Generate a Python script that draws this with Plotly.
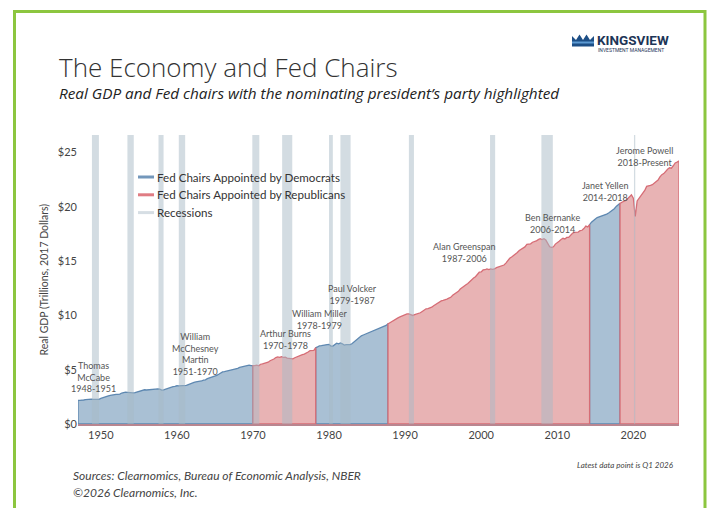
import plotly.graph_objects as go
import pandas as pd

# ---------------- data ----------------
# Real GDP, trillions of 2017 dollars, quarterly from 1947 Q1 to 2026 Q1
gdp_trillions = [
    2.18, 2.18, 2.17, 2.21,   # 1947
    2.24, 2.28, 2.29, 2.29,   # 1948
    2.26, 2.25, 2.28, 2.26,   # 1949
    2.35, 2.42, 2.51, 2.56,   # 1950
    2.59, 2.64, 2.69, 2.70,   # 1951
    2.73, 2.73, 2.75, 2.85,   # 1952
    2.90, 2.93, 2.91, 2.87,   # 1953
    2.86, 2.86, 2.89, 2.95,   # 1954
    3.04, 3.09, 3.13, 3.15,   # 1955
    3.13, 3.15, 3.15, 3.20,   # 1956
    3.22, 3.22, 3.24, 3.20,   # 1957
    3.12, 3.14, 3.21, 3.29,   # 1958
    3.35, 3.44, 3.44, 3.46,   # 1959
    3.52, 3.50, 3.51, 3.47,   # 1960
    3.49, 3.55, 3.62, 3.71,   # 1961
    3.78, 3.83, 3.87, 3.88,   # 1962
    3.92, 3.96, 4.04, 4.07,   # 1963
    4.17, 4.23, 4.29, 4.31,   # 1964
    4.40, 4.48, 4.58, 4.70,   # 1965
    4.80, 4.82, 4.86, 4.90,   # 1966
    4.94, 4.95, 4.98, 5.02,   # 1967
    5.12, 5.21, 5.25, 5.28,   # 1968
    5.35, 5.37, 5.41, 5.38,   # 1969
    5.37, 5.37, 5.42, 5.35,   # 1970
    5.50, 5.54, 5.59, 5.60,   # 1971
    5.69, 5.82, 5.88, 5.98,   # 1972
    6.12, 6.17, 6.14, 6.20,   # 1973
    6.14, 6.15, 6.07, 6.04,   # 1974
    5.96, 5.99, 6.10, 6.18,   # 1975
    6.30, 6.35, 6.39, 6.44,   # 1976
    6.51, 6.63, 6.75, 6.75,   # 1977
    6.77, 7.02, 7.10, 7.20,   # 1978
    7.22, 7.23, 7.29, 7.31,   # 1979
    7.33, 7.17, 7.17, 7.30,   # 1980
    7.44, 7.38, 7.46, 7.38,   # 1981
    7.27, 7.31, 7.29, 7.30,   # 1982
    7.38, 7.54, 7.69, 7.84,   # 1983
    7.99, 8.12, 8.19, 8.26,   # 1984
    8.33, 8.40, 8.53, 8.59,   # 1985
    8.66, 8.69, 8.78, 8.83,   # 1986
    8.89, 8.98, 9.07, 9.22,   # 1987
    9.32, 9.44, 9.50, 9.63,   # 1988
    9.74, 9.83, 9.92, 9.95,   # 1989
    10.09, 10.13, 10.13, 10.04,  # 1990
    9.99, 10.06, 10.11, 10.15,   # 1991
    10.24, 10.36, 10.48, 10.60,  # 1992
    10.62, 10.68, 10.75, 10.89,  # 1993
    11.00, 11.14, 11.20, 11.33,  # 1994
    11.37, 11.41, 11.50, 11.58,  # 1995
    11.66, 11.85, 11.96, 12.12,  # 1996
    12.21, 12.42, 12.58, 12.69,  # 1997
    12.82, 12.93, 13.11, 13.31,  # 1998
    13.44, 13.56, 13.74, 13.97,  # 1999
    13.99, 14.18, 14.20, 14.28,  # 2000
    14.21, 14.28, 14.24, 14.27,  # 2001
    14.39, 14.45, 14.53, 14.55,  # 2002
    14.63, 14.81, 15.08, 15.25,  # 2003
    15.37, 15.49, 15.65, 15.78,  # 2004
    15.97, 16.07, 16.22, 16.30,  # 2005
    16.53, 16.57, 16.58, 16.73,  # 2006
    16.77, 16.85, 16.97, 17.06,  # 2007
    16.97, 17.05, 16.93, 16.54,  # 2008
    16.31, 16.26, 16.31, 16.56,  # 2009
    16.67, 16.83, 16.98, 17.09,  # 2010
    17.03, 17.17, 17.17, 17.39,  # 2011
    17.56, 17.63, 17.64, 17.66,  # 2012
    17.79, 17.83, 17.99, 18.21,  # 2013
    18.14, 18.34, 18.58, 18.69,  # 2014
    18.86, 19.00, 19.06, 19.08,  # 2015
    19.15, 19.22, 19.32, 19.42,  # 2016
    19.55, 19.66, 19.81, 20.03,  # 2017
    20.15, 20.31, 20.41, 20.46,  # 2018
    20.58, 20.73, 20.94, 21.09,  # 2019
    20.78, 19.10, 20.53, 20.77,  # 2020
    21.00, 21.35, 21.50, 21.87,  # 2021
    21.90, 21.97, 22.03, 22.19,  # 2022
    22.35, 22.45, 22.74, 22.95,  # 2023
    23.05, 23.27, 23.45, 23.58,  # 2024
    23.54, 23.77, 24.03, 24.10,  # 2025
    24.20,                       # 2026 Q1
]
quarters = pd.date_range("1947-01-01", periods=len(gdp_trillions), freq="QS")

# Fed chair eras by party of nominating president
era_start = ["1947-01-01", "1970-01-01", "1978-04-01", "1987-10-01", "2014-04-01", "2018-04-01"]
era_end   = ["1970-01-01", "1978-04-01", "1987-10-01", "2014-04-01", "2018-04-01", "2026-01-01"]
era_party = ["D", "R", "D", "R", "D", "R"]

# NBER recessions
rec_start = ["1948-11-01", "1953-07-01", "1957-08-01", "1960-04-01", "1969-12-01", "1973-11-01",
             "1980-01-01", "1981-07-01", "1990-07-01", "2001-03-01", "2007-12-01", "2020-02-01"]
rec_end   = ["1949-10-01", "1954-05-01", "1958-04-01", "1961-02-01", "1970-11-01", "1975-03-01",
             "1980-07-01", "1982-11-01", "1991-03-01", "2001-11-01", "2009-06-01", "2020-04-01"]

chair_labels = [
    "Thomas<br>McCabe<br>1948-1951",
    "William<br>McChesney<br>Martin<br>1951-1970",
    "Arthur Burns<br>1970-1978",
    "William Miller<br>1978-1979",
    "Paul Volcker<br>1979-1987",
    "Alan Greenspan<br>1987-2006",
    "Ben Bernanke<br>2006-2014",
    "Janet Yellen<br>2014-2018",
    "Jerome Powell<br>2018-Present",
]

y_ticks = [0, 5, 10, 15, 20, 25]
y_ticktext = ["$0", "$5", "$10", "$15", "$20", "$25"]
x_tick_years = [1950, 1960, 1970, 1980, 1990, 2000, 2010, 2020]

# ---------------- styling ----------------
W, H = 710, 508
ML, MR, MT, MB = 78, 31, 135, 84
PW, PH = W - ML - MR, H - MT - MB

def px(x):   # pixel -> paper x
    return (x - ML) / PW

def py(y):   # pixel -> paper y
    return (H - MB - y) / PH

FONT = "Lato"
BLUE_FILL, BLUE_LINE = "#a9c0d4", "#5e88b1"
RED_FILL, RED_LINE = "#e8b3b4", "#d66d76"
REC_COLOR = "rgba(168,185,197,0.5)"

fig = go.Figure()

s = pd.Series(gdp_trillions, index=quarters)
order = [i for i, p in enumerate(era_party) if p == "D"] + [i for i, p in enumerate(era_party) if p == "R"]
for i in order:
    seg = s[(s.index >= pd.Timestamp(era_start[i])) & (s.index <= pd.Timestamp(era_end[i]))]
    xs = [seg.index[0]] + list(seg.index) + [seg.index[-1], seg.index[0]]
    ys = [0] + list(seg.values) + [0, 0]
    dem = era_party[i] == "D"
    fig.add_trace(go.Scatter(
        x=xs, y=ys, mode="lines", fill="toself",
        fillcolor=BLUE_FILL if dem else RED_FILL,
        line=dict(color=BLUE_LINE if dem else RED_LINE, width=1.3),
        showlegend=False, hoverinfo="skip",
    ))

shapes = []
for a, b in zip(rec_start, rec_end):
    shapes.append(dict(type="rect", xref="x", yref="paper", x0=a, x1=b, y0=0, y1=1,
                       fillcolor=REC_COLOR, line=dict(width=0), layer="above"))

# green frame
shapes.append(dict(type="rect", xref="paper", yref="paper",
                   x0=px(14.5), x1=px(705), y0=py(11.5), y1=py(530),
                   line=dict(color="#8cc63f", width=3), fillcolor="rgba(0,0,0,0)", layer="above"))

# manual legend
leg_items = [("Fed Chairs Appointed by Democrats", "#7397bb"),
             ("Fed Chairs Appointed by Republicans", "#e07c83"),
             ("Recessions", "#d6dee4")]
annotations = []
for k, (txt, col) in enumerate(leg_items):
    yy = 177 + k * 17.8
    shapes.append(dict(type="line", xref="paper", yref="paper",
                       x0=px(138), x1=px(154), y0=py(yy), y1=py(yy),
                       line=dict(color=col, width=3)))
    annotations.append(dict(xref="paper", yref="paper", x=px(155), y=py(yy), text=txt,
                            showarrow=False, xanchor="left", yanchor="middle",
                            font=dict(family=FONT, size=11.6, color="#333")))

# logo crown
crown = [(572, 46.5), (572, 36), (576, 40), (579.5, 34.5), (583, 40), (586.5, 34.5),
         (590, 40), (594, 36), (594, 46.5)]
path = "M " + " L ".join(f"{px(a):.5f},{py(b):.5f}" for a, b in crown) + " Z"
shapes.append(dict(type="path", xref="paper", yref="paper", path=path,
                   fillcolor="#1d4f86", line=dict(width=0)))
band = [(572, 41.5), (594, 41.5), (594, 43.5), (572, 43.5)]
path2 = "M " + " L ".join(f"{px(a):.5f},{py(b):.5f}" for a, b in band) + " Z"
shapes.append(dict(type="path", xref="paper", yref="paper", path=path2,
                   fillcolor="#5d9bd3", line=dict(width=0)))

# chair labels (positioned in data space)
label_pos = [("1949-02-01", 4.35), ("1962-06-01", 6.4), ("1974-04-01", 7.8), ("1978-10-01", 9.6),
             ("1983-02-01", 11.95), ("1997-11-01", 15.75), ("2009-05-01", 18.45),
             ("2016-05-01", 21.4), ("2021-06-01", 24.6)]
for txt, (lx, ly) in zip(chair_labels, label_pos):
    annotations.append(dict(x=lx, y=ly, xref="x", yref="y", text=txt, showarrow=False,
                            xanchor="center", yanchor="middle",
                            font=dict(family=FONT, size=9, color="#555")))

# titles and notes
annotations += [
    dict(xref="paper", yref="paper", x=px(57), y=py(67), text="The Economy and Fed Chairs",
         showarrow=False, xanchor="left", yanchor="middle",
         font=dict(family="Open Sans", size=26, color="#333", weight=300)),
    dict(xref="paper", yref="paper", x=px(57), y=py(93),
         text="<i>Real GDP and Fed chairs with the nominating president’s party highlighted</i>",
         showarrow=False, xanchor="left", yanchor="middle",
         font=dict(family="Open Sans", size=15.3, color="#222", weight=400)),
    dict(xref="paper", yref="paper", x=px(595), y=py(40), text="<b>KINGSVIEW</b>",
         showarrow=False, xanchor="left", yanchor="middle",
         font=dict(family="Roboto", size=13.5, color="#1d3557")),
    dict(xref="paper", yref="paper", x=px(596), y=py(49.5), text="INVESTMENT MANAGEMENT",
         showarrow=False, xanchor="left", yanchor="middle",
         font=dict(family="Roboto", size=5, color="#1d3557")),
    dict(xref="paper", yref="paper", x=px(43), y=0.5, text="Real GDP (Trillions, 2017 Dollars)",
         showarrow=False, textangle=-90, xanchor="center", yanchor="middle",
         font=dict(family=FONT, size=10.5, color="#444")),
    dict(xref="paper", yref="paper", x=px(71), y=py(475),
         text="<i>Sources: Clearnomics, Bureau of Economic Analysis, NBER</i>",
         showarrow=False, xanchor="left", yanchor="middle",
         font=dict(family=FONT, size=12, color="#444")),
    dict(xref="paper", yref="paper", x=px(71), y=py(493),
         text="<i>©2026 Clearnomics, Inc.</i>",
         showarrow=False, xanchor="left", yanchor="middle",
         font=dict(family=FONT, size=12, color="#444")),
    dict(xref="paper", yref="paper", x=px(676), y=py(465),
         text="<i>Latest data point is Q1 2026</i>",
         showarrow=False, xanchor="right", yanchor="middle",
         font=dict(family=FONT, size=8, color="#444")),
]

fig.update_layout(
    width=W, height=H,
    margin=dict(l=ML, r=MR, t=MT, b=MB),
    paper_bgcolor="white", plot_bgcolor="white",
    shapes=shapes, annotations=annotations,
    showlegend=False,
    xaxis=dict(type="date", range=["1947-01-01", "2026-01-01"],
               tickvals=[f"{y}-01-01" for y in x_tick_years], ticktext=[str(y) for y in x_tick_years],
               showgrid=False, zeroline=False, showline=True, linecolor="#b98690", linewidth=1.5,
               ticks="", tickfont=dict(family=FONT, size=11, color="#444")),
    yaxis=dict(range=[0, 26.6], tickvals=y_ticks, ticktext=y_ticktext,
               showgrid=False, zeroline=False, showline=False,
               ticks="", tickfont=dict(family=FONT, size=11, color="#444")),
)

fig.write_html(
    "out.html",
    config={"displayModeBar": False},
    post_script="document.body.style.margin='0';document.body.style.padding='0';"
                "document.body.style.overflow='hidden';",
)
